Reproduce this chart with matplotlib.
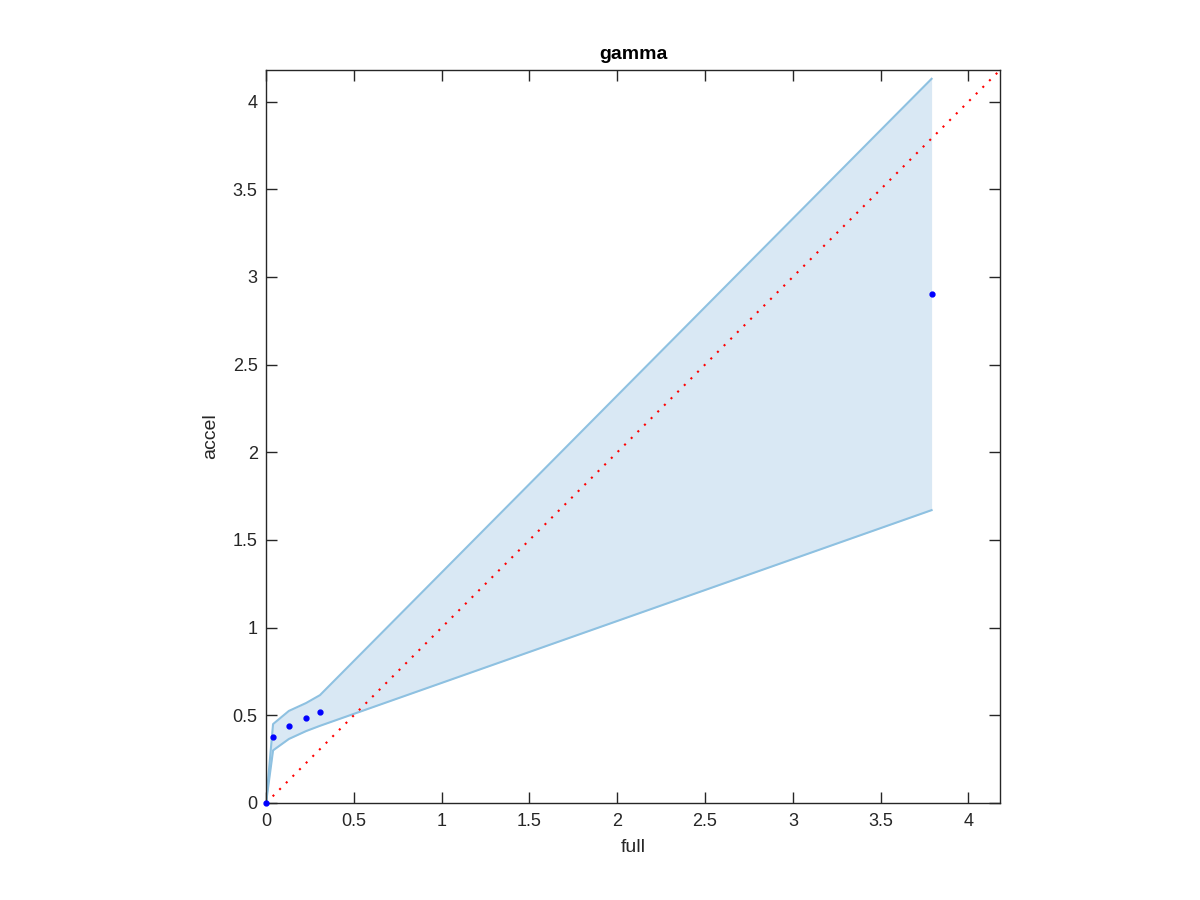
import numpy as np
import matplotlib.pyplot as plt

plt.rcParams['font.family'] = ['Liberation Sans', 'DejaVu Sans']

# point estimates
full = [0.0, 0.04, 0.13, 0.228, 0.307, 3.79]
accel = [0.0, 0.375, 0.44, 0.485, 0.52, 2.905]

# confidence band
band_upper = [0.0, 0.45, 0.525, 0.57, 0.615, 4.13]
band_lower = [0.0, 0.30, 0.365, 0.41, 0.44, 1.67]

lim = 4.18
ticks = [0, 0.5, 1, 1.5, 2, 2.5, 3, 3.5, 4]
tick_labels = ['0', '0.5', '1', '1.5', '2', '2.5', '3', '3.5', '4']

fig = plt.figure(figsize=(12, 9), dpi=100)
ax = fig.add_axes([0.2217, 0.1078, 0.6117, 0.8144])

ax.fill_between(full, band_lower, band_upper, color='#d9e8f4', lw=0)
ax.plot(full, band_upper, color='#8ec1e1', lw=1.5)
ax.plot(full, band_lower, color='#8ec1e1', lw=1.5)
ax.plot([0, lim], [0, lim], color='red', ls=(0, (1, 3.5)), lw=1.5)
ax.plot(full, accel, 'o', color='blue', ms=3.5, clip_on=False, zorder=5)

ax.set_xlim(0, lim)
ax.set_ylim(0, lim)
ax.set_xticks(ticks)
ax.set_xticklabels(tick_labels)
ax.set_yticks(ticks)
ax.set_yticklabels(tick_labels)
ax.tick_params(direction='in', top=True, right=True, length=8, width=1,
               labelsize=13, colors='#262626')
ax.tick_params(axis='x', pad=7)
ax.tick_params(axis='y', pad=6)
for s in ax.spines.values():
    s.set_color('#262626')
    s.set_linewidth(1)

ax.set_title('gamma', fontsize=14, fontweight='bold', pad=8)
ax.set_xlabel('full', fontsize=14, color='#262626', labelpad=7)
ax.set_ylabel('accel', fontsize=14, color='#262626', labelpad=10)

plt.savefig('out.png')
